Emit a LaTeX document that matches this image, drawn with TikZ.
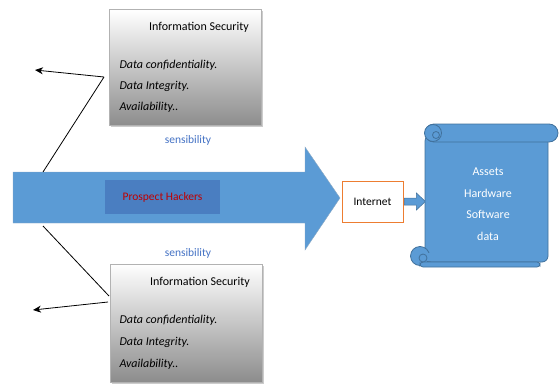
\documentclass[tikz,border=0pt]{standalone}
\usepackage{fontspec}
\setmainfont{Carlito}
\usetikzlibrary{arrows.meta, shadows}
\definecolor{arrowblue}{RGB}{91,155,213}
\definecolor{edgeblue}{RGB}{65,113,156}
\definecolor{hackblue}{RGB}{74,126,193}
\definecolor{hackred}{RGB}{192,0,0}
\definecolor{sensblue}{RGB}{68,114,196}
\definecolor{netorange}{RGB}{237,125,49}

\tikzset{
    secbox/.style={draw=gray!60, top color=white, bottom color=black!45,
        minimum width=152pt, minimum height=116pt,
        drop shadow={shadow xshift=1.5pt, shadow yshift=-1.5pt, opacity=0.4}},
    item/.style={anchor=west, font=\fontsize{12}{14}\selectfont\itshape},
    sens/.style={text=sensblue, font=\fontsize{11.5}{14}\selectfont},
    scrollpart/.style={fill=arrowblue, draw=edgeblue, line width=0.8pt},
    link/.style={line width=0.8pt},
}

\begin{document}
\begin{tikzpicture}[x=1pt, y=-1pt, font=\fontsize{11.5}{14}\selectfont]
    \useasboundingbox (0,0) rectangle (559,383);
    % big arrow
    \filldraw[fill=arrowblue, draw=edgeblue!60] (13,172) -- (305,172) -- (305,147)
        -- (340,198) -- (305,250) -- (305,223) -- (13,223) -- cycle;
    \coordinate (bodytop) at (43,172);
    \coordinate (bodybot) at (43,226);
    \node[fill=hackblue, minimum width=115pt, minimum height=34pt, text=hackred] (hackers) at (162.5,197) {Prospect Hackers};

    % boxes
    \node[secbox] (topbox) at (185.5,67.5) {};
    \node[secbox, minimum height=118pt] (botbox) at (186,323) {};
    \node[font=\fontsize{12}{14}\selectfont] (toptitle) at (199,27) {Information Security};
    \node[font=\fontsize{12}{14}\selectfont] (bottitle) at (200,282) {Information Security};
    \foreach \t [count=\i] in {Data confidentiality., Data Integrity., Availability..}{
        \node[item] (topitem\i) at (116,44+21*\i) {\t};
        \node[item] (botitem\i) at (116,298+22*\i) {\t};
    }
    \node[sens] (senstop) at (188,140) {sensibility};
    \node[sens] (sensbot) at (188,253) {sensibility};

    % links
    \coordinate (topjoin) at (104,77);
    \coordinate (topend) at (35,70);
    \coordinate (botjoin) at (109,296);
    \coordinate (botstart) at (108,302);
    \coordinate (botend) at (33,310);
    \draw[link] (bodytop) -- (topjoin);
    \draw[link, -{Stealth[length=8pt, width=7pt]}] (topjoin) -- (topend);
    \draw[link] (bodybot) -- (botjoin);
    \draw[link, -{Stealth[length=8pt, width=7pt]}] (botstart) -- (botend);

    % internet
    \node[draw=netorange, fill=white, line width=0.8pt, minimum width=61pt, minimum height=41pt] (net) at (372.5,201.5) {Internet};
    \filldraw[scrollpart, line width=0.5pt] (net.east) ++(1,-3.5) -- ++(12,0) -- ++(0,-5)
        -- ++(9,8.5) -- ++(-9,8.5) -- ++(0,-5) -- ++(-12,0) -- cycle;

    % scroll
    \filldraw[scrollpart, rounded corners=6pt] (425,135) rectangle (548,262);
    \filldraw[scrollpart] (420,256) circle (9.5);
    \filldraw[scrollpart, rounded corners=3pt] (420,262) -- (540,262) -- (540,267) -- (420,267) -- cycle;
    \fill[arrowblue] (421,253) rectangle (432,261);
    \filldraw[scrollpart] (423,258) circle (4);
    \filldraw[scrollpart, rounded corners=9pt] (425,124) rectangle (558,142);
    \filldraw[scrollpart] (433,133) circle (8.5);
    \filldraw[scrollpart] (436,135) circle (3.5);
    \node[text=white, align=center, font=\fontsize{12}{21.5}\selectfont] (assets) at (488,204) {Assets\\Hardware\\Software\\data};
\end{tikzpicture}
\end{document}
